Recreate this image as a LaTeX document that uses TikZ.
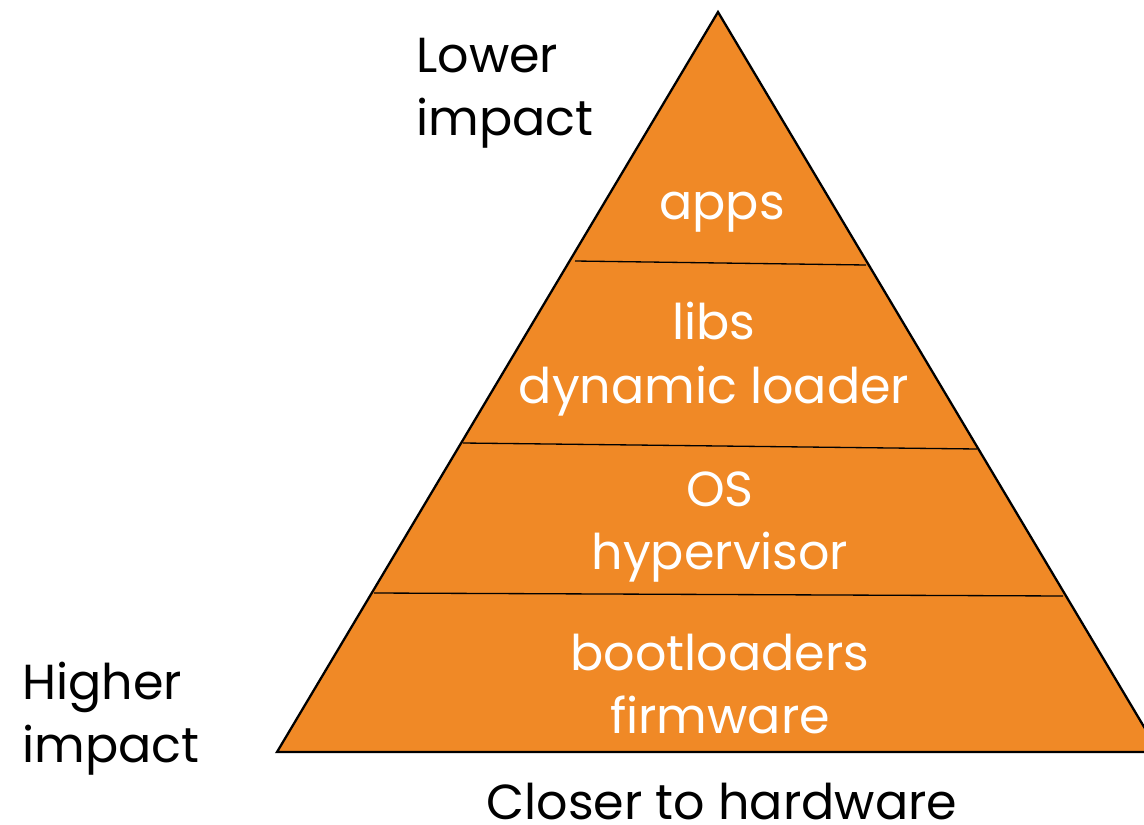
\documentclass[tikz,border=0pt]{standalone}
\usepackage{fontspec}
\setmainfont{Poppins}
\definecolor{pyr_orange}{RGB}{240, 137, 38}
\tikzstyle{lyr}=[text=white,align=center,font=\fontsize{28}{36}\selectfont,inner sep=0pt]
\tikzstyle{side}=[text=black,align=left,font=\fontsize{28}{36}\selectfont,inner sep=0pt]
\tikzstyle{cut}=[line width=0.75pt,draw=black]

\begin{document}
\begin{tikzpicture}[x=0.02cm,y=-0.02cm]
    \useasboundingbox (0,0) rectangle (1144,825);
    \coordinate (top) at (718,12);
    \coordinate (bl) at (277,752);
    \coordinate (br) at (1159,752);
    \fill [pyr_orange] (top) -- (bl) -- (br) -- cycle;
    \coordinate (c1l) at (575,261);
    \coordinate (c1r) at (866,265);
    \coordinate (c2l) at (463,443);
    \coordinate (c2r) at (977,449);
    \coordinate (c3l) at (374,593);
    \coordinate (c3r) at (1063,596);
    \draw [style=cut] (c1l) to (c1r);
    \draw [style=cut] (c2l) to (c2r);
    \draw [style=cut] (c3l) to (c3r);
    \draw [line width=1.3pt,line join=miter] (br) -- (top) -- (bl) -- (br);
    \node [style=lyr] (apps) at (722,212) {apps};
    \node [style=lyr] (libs) at (714,359) {libs\\dynamic loader};
    \node [style=lyr] (os) at (720,527) {OS\\hypervisor};
    \node [style=lyr] (boot) at (720,684) {bootloaders\\firmware};
    \node [style=side,anchor=west] (low) at (416,93) {Lower\\impact};
    \node [style=side,anchor=west] (high) at (22,719) {Higher\\impact};
    \node [style=side] (hw) at (722,802) {Closer to hardware};
  \end{tikzpicture}
\end{document}
